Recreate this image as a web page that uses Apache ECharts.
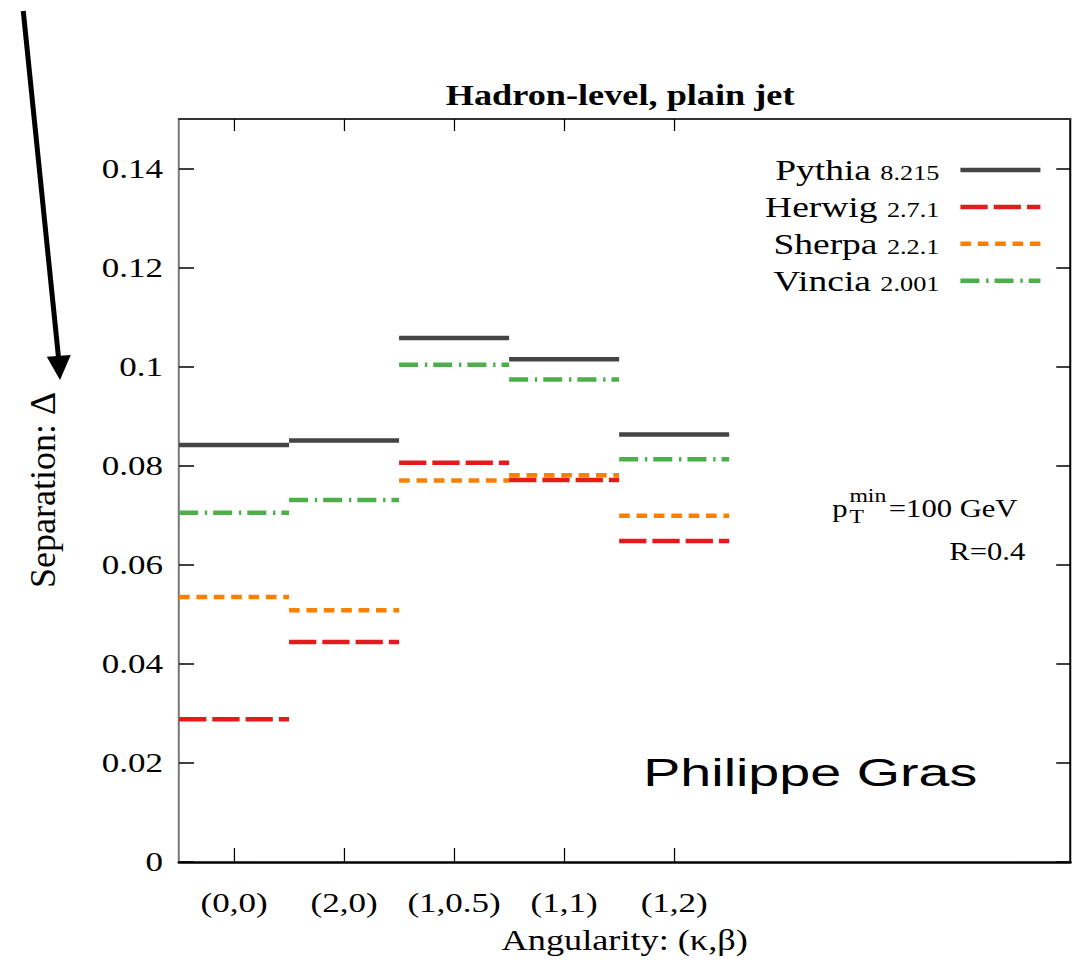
<!DOCTYPE html>
<html>
<head>
<meta charset="utf-8">
<script src="https://cdn.jsdelivr.net/npm/echarts@6/dist/echarts.min.js"></script>
<style>
html,body{margin:0;padding:0;background:#fff;overflow:hidden;}
#wrap{width:1074px;height:963px;overflow:hidden;background:#fff;}
#chart{width:859px;height:963px;transform:scaleX(1.250291);transform-origin:0 0;}
</style>
</head>
<body>
<div id="wrap"><div id="chart"></div></div>
<script>
// ---- data ----
const categories = ['(0,0)', '(2,0)', '(1,0.5)', '(1,1)', '(1,2)'];
const pythia = [0.0842, 0.0851, 0.1058, 0.1015, 0.0863];
const herwig = [0.0288, 0.0444, 0.0806, 0.0771, 0.0648];
const sherpa = [0.0535, 0.0508, 0.0770, 0.0781, 0.0699];
const vincia = [0.0705, 0.0731, 0.1004, 0.0974, 0.0813];
const seriesNames = ['Pythia', 'Herwig', 'Sherpa', 'Vincia'];
const versions = ['8.215', '2.7.1', '2.2.1', '2.001'];
const yTicks = [0, 0.02, 0.04, 0.06, 0.08, 0.1, 0.12, 0.14];
const yTickLabels = ['0', '0.02', '0.04', '0.06', '0.08', '0.1', '0.12', '0.14'];
const xTicks = [0, 1, 2, 3, 4];

const SERIF = '"Liberation Serif", "Times New Roman", serif';
const SANS = '"Liberation Sans", Arial, sans-serif';
const S = 1074 / 859; // horizontal stretch of the whole figure

function segments(vals) {
  const out = [];
  vals.forEach((v, i) => {
    out.push([i - 0.5, v]);
    out.push([i + 0.5, v]);
    out.push([i + 0.5, null]);
  });
  return out;
}

const cv = document.createElement('canvas').getContext('2d');
function tw(t, f) { cv.font = f; return cv.measureText(t).width; }

const chart = echarts.init(document.getElementById('chart'), null, {renderer: 'svg'});

const styles = {
  Pythia: {color: '#444444', type: 'solid', z: 2},
  Herwig: {color: '#e41a1c', type: [21.8, 4.8], z: 4},
  Sherpa: {color: '#f98000', type: [8.5, 5.4], z: 3},
  Vincia: {color: '#4daf4a', type: [15.2, 5.4, 1.9, 4.8], z: 2}
};
const values = {Pythia: pythia, Herwig: herwig, Sherpa: sherpa, Vincia: vincia};

const series = seriesNames.map(n => ({
  name: n,
  type: 'line',
  data: segments(values[n]),
  symbol: 'none',
  showSymbol: false,
  connectNulls: false,
  silent: true,
  z: styles[n].z,
  itemStyle: {color: styles[n].color},
  lineStyle: {color: styles[n].color, width: 4.5, type: styles[n].type, cap: 'butt'}
}));

// pT text pieces
const fMain = '24.5px ' + SERIF, fSmall = '19px ' + SERIF;
const pX = 665.6;
const x2 = pX + tw('p', fMain) + 1.5;
const x3 = x2 + Math.max(tw('min', fSmall), tw('T', fSmall)) + 2;

function txt(x, y, text, font, align, extra) {
  return Object.assign({
    type: 'text', x: x, y: y, silent: true,
    style: {text: text, font: font, fill: '#000', textAlign: align || 'left', textVerticalAlign: 'middle'}
  }, extra || {});
}

const option = {
  animation: false,
  backgroundColor: '#ffffff',
  grid: {left: 143.2, right: 3, top: 119, bottom: 101},
  xAxis: [
    {
      type: 'value', min: -0.5, max: 7.6, position: 'bottom',
      axisLine: {show: true, onZero: false, lineStyle: {color: '#000', width: 2.5}},
      axisTick: {show: true, inside: true, length: 14, customValues: xTicks, lineStyle: {color: '#000', width: 1}},
      axisLabel: {
        customValues: xTicks, formatter: v => categories[Math.round(v)] || '',
        margin: 27, fontSize: 28, fontFamily: SERIF, color: '#000'
      },
      splitLine: {show: false},
      name: 'Angularity: (κ,β)', nameLocation: 'middle', nameGap: 63.5,
      nameTextStyle: {fontSize: 29, fontFamily: SERIF, color: '#000'}
    },
    {
      type: 'value', min: -0.5, max: 7.6, position: 'top',
      axisLine: {show: true, onZero: false, lineStyle: {color: '#333', width: 2}},
      axisTick: {show: true, inside: true, length: 12, customValues: xTicks, lineStyle: {color: '#000', width: 1}},
      axisLabel: {show: false},
      splitLine: {show: false}
    }
  ],
  yAxis: [
    {
      type: 'value', min: 0, max: 0.15, position: 'left',
      axisLine: {show: true, onZero: false, lineStyle: {color: '#777', width: 1.6}},
      axisTick: {show: true, inside: true, length: 12, customValues: yTicks, lineStyle: {color: '#000', width: 1.5}},
      axisLabel: {
        customValues: yTicks,
        formatter: v => { const i = yTicks.findIndex(t => Math.abs(t - v) < 1e-9); return i >= 0 ? yTickLabels[i] : ''; },
        margin: 12.8, fontSize: 28, fontFamily: SERIF, color: '#000'
      },
      splitLine: {show: false}
    },
    {
      type: 'value', min: 0, max: 0.15, position: 'right',
      axisLine: {show: true, onZero: false, lineStyle: {color: '#000', width: 1.6}},
      axisTick: {show: true, inside: true, length: 11.2, customValues: yTicks, lineStyle: {color: '#000', width: 1.5}},
      axisLabel: {show: false},
      splitLine: {show: false}
    }
  ],
  legend: {
    orient: 'vertical', right: 24.6, top: 155, align: 'right', padding: 0,
    itemWidth: 64, itemHeight: 2, itemGap: 6.9, selectedMode: false,
    data: seriesNames,
    formatter: name => '{a|' + name + ' }{b|' + versions[seriesNames.indexOf(name)] + '}{s| }',
    itemStyle: {opacity: 0, borderWidth: 0},
    textStyle: {
      color: '#000', fontFamily: SERIF,
      rich: {
        a: {fontSize: 30, lineHeight: 33, fontFamily: SERIF, color: '#000'},
        b: {fontSize: 21, lineHeight: 27, padding: [6, 0, 0, 0], fontFamily: SERIF, color: '#000'},
        s: {width: 11.8, fontSize: 10}
      }
    },
    lineStyle: {width: 4.5}
  },
  series: series,
  graphic: [
    txt(496, 95, 'Hadron-level, plain jet', 'bold 29px ' + SERIF, 'center'),
    txt(34.4, 490, 'Separation: Δ', '36px ' + SERIF, 'center', {rotation: Math.PI / 2, scaleY: 1 / S}),
    txt(pX, 509, 'p', fMain),
    txt(x2, 496, 'min', fSmall),
    txt(x2, 517, 'T', fSmall),
    txt(x3, 509, '=100 GeV', fMain),
    txt(820, 552, 'R=0.4', fMain, 'right'),
    txt(514.4, 772, 'Philippe Gras', '39.5px ' + SANS, 'left', {scaleX: 1.41 / S}),
    {
      type: 'line', silent: true,
      shape: {x1: 18.6, y1: 11, x2: 47, y2: 360},
      style: {stroke: '#000', lineWidth: 4}
    },
    {
      type: 'polygon', silent: true,
      shape: {points: [[37.4, 356.7], [56.6, 355], [48, 380]]},
      style: {fill: '#000'}
    }
  ]
};
chart.setOption(option);
</script>
</body>
</html>
